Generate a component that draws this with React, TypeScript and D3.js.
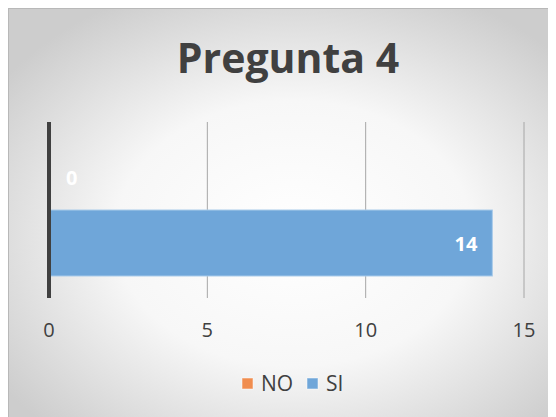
import React from 'react';
import * as d3 from 'd3';

const categories = ['Pregunta 4'];
const seriesNames = ['NO', 'SI'];
const seriesValues = [0, 14];
const xTicks = [0, 5, 10, 15];
const seriesColors = ['#f08d4f', '#6fa6d9'];

const W = 548;
const H = 409;

export default function App() {
  const margin = { top: 114, left: 41, right: 32, bottom: 119 };
  const x = d3.scaleLinear().domain([0, 15]).range([margin.left, W - margin.right]);
  const y = d3.scaleBand().domain(categories).range([margin.top, H - margin.bottom]).paddingInner(0).paddingOuter(1 / 6);
  const inner = d3.scaleBand().domain(seriesNames).range([0, y.bandwidth()]);
  const font = '"Open Sans", sans-serif';

  return (
    <svg width={W} height={H} style={{ display: 'block', fontFamily: font }}>
      <defs>
        <radialGradient id="bg" cx="52%" cy="55%" r="65%">
          <stop offset="0%" stopColor="#ffffff" />
          <stop offset="50%" stopColor="#f7f7f7" />
          <stop offset="100%" stopColor="#cdcdcd" />
        </radialGradient>
      </defs>
      <rect x={0.5} y={0.5} width={W} height={H} fill="url(#bg)" stroke="#b8b8b8" />
      <text x={280} y={65} textAnchor="middle" fontSize={41} fontWeight="bold" fill="#404040">
        {categories[0]}
      </text>
      {xTicks.slice(1).map(t => (
        <line key={t} x1={x(t)} x2={x(t)} y1={margin.top} y2={H - margin.bottom} stroke="#a6a6a6" strokeWidth={1} />
      ))}
      {categories.map(c =>
        seriesNames.map((s, i) => {
          const v = seriesValues[i];
          const yy = (y(c) as number) + (inner(s) as number);
          return (
            <g key={s}>
              {v > 0 && (
                <rect x={x(0)} y={yy} width={x(v) - x(0)} height={inner.bandwidth()} fill={seriesColors[i]} stroke="#a9cbea" strokeWidth={1} />
              )}
              <text
                x={v > 0 ? x(v) - 15 : x(0) + 17}
                y={yy + inner.bandwidth() / 2 + 8}
                textAnchor={v > 0 ? 'end' : 'start'}
                fontSize={20}
                fontWeight="bold"
                fill="#ffffff"
              >
                {v}
              </text>
            </g>
          );
        })
      )}
      <line x1={x(0)} x2={x(0)} y1={margin.top} y2={H - margin.bottom} stroke="#404040" strokeWidth={4} />
      {xTicks.map(t => (
        <text key={t} x={x(t)} y={329} textAnchor="middle" fontSize={20} fill="#404040">
          {t}
        </text>
      ))}
      <g>
        {seriesNames.map((s, i) => {
          const lx = [234, 299][i];
          return (
            <g key={s}>
              <rect x={lx} y={370} width={11} height={11} fill={seriesColors[i]} stroke="#ffffff" strokeOpacity={0.5} />
              <text x={lx + 19} y={383} fontSize={21} fill="#404040">{s}</text>
            </g>
          );
        })}
      </g>
    </svg>
  );
}
